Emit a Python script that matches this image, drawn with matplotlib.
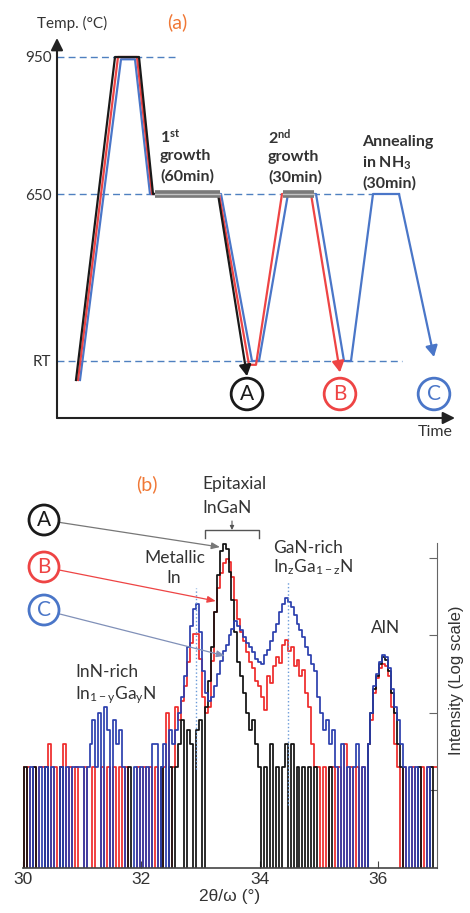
import numpy as np
import matplotlib
matplotlib.use("Agg")
import matplotlib.pyplot as plt
from matplotlib.ticker import NullLocator

plt.rcParams['font.family'] = ['Lato', 'DejaVu Sans']
plt.rcParams['mathtext.fontset'] = 'custom'
plt.rcParams['mathtext.rm'] = 'Lato'
plt.rcParams['mathtext.it'] = 'Lato:italic'
plt.rcParams['mathtext.bf'] = 'Lato:bold'

# ---- (a) growth sequences: time (arb. units) vs temperature (C)
t_A = [19, 58, 82, 96, 161, 190]
T_A = [0, 950, 950, 650, 650, 5]
t_B = [21, 61, 80, 95, 162, 192, 199, 225, 254, 283]
T_B = [0, 950, 950, 650, 650, 20, 20, 650, 650, 10]
t_C = [23, 64, 78, 93, 164, 195, 202, 231, 259, 287, 294, 316, 342, 377]
T_C = [0, 945, 945, 650, 650, 25, 25, 650, 650, 25, 25, 650, 650, 40]
growth1 = [98, 163]
growth2 = [226, 257]
# schematic temperature axis (not to scale)
T_ref = [0, 25, 650, 950]
H_ref = [38, 57, 224, 361]

# ---- (b) XRD 2theta/omega scans, counts per second, 0.05 deg step
two_theta = np.linspace(30, 37, 141)
cps_A = [0, 2, 0, 0, 2, 0, 0, 0, 2, 0, 0, 0, 0, 2, 0, 0, 0, 0, 0, 0,
         0, 0, 0, 0, 0, 0, 0, 0, 0, 0, 0, 0, 0, 0, 0, 0, 2, 0, 0, 0,
         0, 0, 0, 0, 0, 0, 0, 2, 0, 0, 2, 0, 2, 4, 8, 0, 6, 4, 0, 6,
         8, 0, 12, 26, 70, 200, 600, 1200, 1500, 1300, 650, 280, 110, 45, 30, 18, 10, 6, 8, 4,
         2, 0, 2, 0, 4, 0, 2, 0, 2, 4, 0, 4, 0, 2, 0, 2, 0, 2, 0, 2,
         0, 0, 0, 0, 2, 0, 0, 0, 0, 0, 0, 0, 0, 0, 0, 0, 0, 4, 10, 20,
         30, 42, 52, 48, 35, 18, 10, 4, 2, 0, 0, 0, 0, 0, 2, 0, 0, 0, 2, 0,
         0]
cps_B = [2, 0, 2, 0, 2, 0, 2, 2, 0, 4, 0, 2, 0, 2, 4, 0, 2, 0, 2, 0,
         0, 2, 0, 0, 2, 0, 0, 2, 0, 2, 0, 2, 0, 2, 0, 2, 0, 0, 0, 2,
         0, 2, 0, 2, 0, 2, 0, 0, 2, 10, 0, 2, 12, 8, 14, 22, 45, 80, 105, 105,
         50, 16, 10, 12, 47, 200, 400, 630, 850, 950, 870, 560, 280, 160, 110, 85, 60, 45, 38, 26,
         22, 16, 11, 30, 24, 40, 52, 44, 75, 86, 62, 70, 40, 48, 30, 36, 18, 12, 4, 2,
         2, 0, 2, 0, 2, 2, 0, 2, 0, 4, 0, 2, 0, 2, 0, 2, 0, 4, 8, 18,
         28, 38, 42, 40, 30, 12, 4, 2, 0, 2, 0, 0, 2, 0, 0, 2, 0, 2, 2, 2,
         2]
cps_C = [0, 0, 0, 2, 0, 0, 2, 0, 2, 0, 2, 0, 0, 2, 0, 2, 0, 2, 2, 2,
         2, 0, 2, 4, 8, 2, 10, 0, 12, 6, 0, 8, 4, 6, 2, 0, 0, 0, 2, 0,
         2, 0, 2, 0, 4, 4, 0, 2, 4, 0, 6, 4, 6, 10, 16, 30, 70, 130, 220, 250,
         110, 35, 18, 14, 16, 22, 32, 47, 62, 75, 100, 120, 150, 130, 115, 95, 80, 70, 60, 50,
         45, 42, 55, 65, 85, 110, 140, 200, 250, 300, 270, 230, 180, 140, 115, 95, 70, 55, 42, 35,
         16, 10, 6, 8, 4, 6, 2, 0, 4, 0, 2, 0, 2, 4, 0, 2, 0, 4, 10, 22,
         32, 45, 55, 52, 38, 20, 12, 8, 4, 2, 0, 2, 0, 2, 0, 0, 0, 2, 0, 0,
         0]

col_a = {'A': '#1a1a1a', 'B': '#ee4444', 'C': '#4a76c8'}
col_b = {'A': '#111111', 'B': '#ee2a2a', 'C': '#2b3fae'}
txt = '#333333'
orange = '#f07836'


def h(T):
    return np.interp(T, T_ref, H_ref)


fig = plt.figure(figsize=(4.7, 9.13), dpi=100)

# ================= (a) =================
ax_a = fig.add_axes([57 / 470, 1 - 418 / 913, 398 / 470, 380 / 913])
ax_a.set_xlim(0, 398)
ax_a.set_ylim(0, 380)
for s in ax_a.spines.values():
    s.set_visible(False)

dash = dict(color='#4f80c0', lw=1.0, ls=(0, (5, 3)), zorder=1)
ax_a.hlines(h(950), 0, 118, **dash)
ax_a.hlines(h(650), 0, 315, **dash)
ax_a.hlines(h(25), 0, 345, **dash)

for key, t, T in [('C', t_C, T_C), ('B', t_B, T_B), ('A', t_A, T_A)]:
    c = col_a[key]
    ax_a.plot(t[:-1], h(T[:-1]), color=c, lw=1.6, zorder=3)
    ax_a.annotate('', xy=(t[-1], h(T[-1])), xytext=(t[-2], h(T[-2])),
                  arrowprops=dict(arrowstyle='-|>,head_length=0.55,head_width=0.3',
                                  color=c, lw=1.6, shrinkA=0, shrinkB=0,
                                  mutation_scale=12), zorder=3)
    ax_a.text(t[-1], 24, key, ha='center', va='center', fontsize=15, color=c,
              bbox=dict(boxstyle='circle,pad=0.28', fc='white', ec=c, lw=2))

for g in [growth1, growth2]:
    ax_a.plot(g, [h(650)] * 2, color='#7a7a7a', lw=5.5, solid_capstyle='butt', zorder=5)
    ax_a.plot(g, [h(650)] * 2, color='#c4c4c4', lw=1.0, zorder=6)

ax_a.set_xticks([])
ax_a.set_yticks(h([25, 650, 950]))
ax_a.set_yticklabels(['RT', '650', '950'])
ax_a.tick_params(axis='y', length=0, pad=4, labelsize=11, labelcolor=txt)

arr = dict(arrowstyle='-|>,head_length=0.6,head_width=0.3', color='#222222', lw=1.5,
           shrinkA=0, shrinkB=0, mutation_scale=12)
ax_a.annotate('', xy=(0, 1), xytext=(0, 0), xycoords='axes fraction', arrowprops=arr)
ax_a.annotate('', xy=(1, 0), xytext=(0, 0), xycoords='axes fraction', arrowprops=arr)

# ================= (b) =================
ax_b = fig.add_axes([23 / 470, 45 / 913, 414 / 470, 325 / 913])
ax_b.set_yscale('log')
for key, y in [('B', cps_B), ('A', cps_A), ('C', cps_C)]:
    y = np.array(y, dtype=float)
    ax_b.plot(two_theta, np.where(y > 0, y, 1e-3), drawstyle='steps-mid',
              color=col_b[key], lw=1.25)
ax_b.vlines(32.92, 1.9, 400, color='#6a9ad8', ls=':', lw=1.0, zorder=5)
ax_b.vlines(34.48, 0.65, 500, color='#6a9ad8', ls=':', lw=1.0, zorder=5)
ax_b.set_xlim(30, 37)
ax_b.set_ylim(0.1, 1540)
for s in ['top', 'left']:
    ax_b.spines[s].set_visible(False)
ax_b.spines['bottom'].set_color('#444444')
ax_b.spines['bottom'].set_linewidth(1.2)
ax_b.spines['right'].set_color('#666666')
ax_b.set_xticks([30, 32, 34, 36])
ax_b.tick_params(axis='x', direction='in', length=5, pad=3, labelsize=12.5,
                 labelcolor=txt, labelfontfamily='Liberation Sans', color='#444444')
ax_b.set_yticks([1, 10, 100, 1000])
ax_b.yaxis.set_minor_locator(NullLocator())
ax_b.yaxis.set_ticks_position('right')
ax_b.tick_params(axis='y', direction='in', length=6, labelright=False, color='#666666')
ax_b.set_xlabel('2θ/ω (°)', fontsize=12.5, family='Liberation Sans', color=txt, labelpad=1)

# ================= overlay (labels) =================
ov = fig.add_axes([0, 0, 1, 1], zorder=10)
ov.set_xlim(0, 470)
ov.set_ylim(913, 0)
ov.axis('off')

ov.text(72, 23, 'Temp. (°C)', ha='center', va='center', fontsize=11, color=txt)
ov.text(177, 22, '(a)', ha='center', va='center', fontsize=14, color=orange)
ov.text(453, 432, 'Time', ha='right', va='center', fontsize=11.5, color=txt)

steps = [
    (160, [137, 156, 176], ['1$^{\\mathbf{st}}$', 'growth', '(60min)']),
    (268, [137, 157, 177], ['2$^{\\mathbf{nd}}$', 'growth', '(30min)']),
    (362, [142, 163, 183], ['Annealing', 'in NH$_{\\mathbf{3}}$', '(30min)']),
]
for x0, ys, lines in steps:
    for y0, s in zip(ys, lines):
        ov.text(x0, y0, s, ha='left', va='center', fontsize=11.5,
                fontweight='bold', color=txt)

ov.text(147, 484, '(b)', ha='center', va='center', fontsize=14, color=orange)
lab = dict(fontsize=12.5, color=txt, va='center')
ov.text(202, 484, 'Epitaxial', ha='left', **lab)
ov.text(202, 508, 'InGaN', ha='left', **lab)
ov.plot([205, 205, 259, 259], [538, 530, 530, 538], color='#555555', lw=1)
ov.annotate('', xy=(232, 530), xytext=(232, 521),
            arrowprops=dict(arrowstyle='-|>', mutation_scale=6, lw=0.8,
                            color='#555555', shrinkA=0, shrinkB=0))
ov.text(175, 558, 'Metallic', ha='center', **lab)
ov.text(174, 578, 'In', ha='center', **lab)
ov.text(273, 548, 'GaN-rich', ha='left', **lab)
ov.text(273, 567, 'In$_{\\mathrm{z}}$Ga$_{\\mathrm{1-z}}$N', ha='left', **lab)
ov.text(386, 628, 'AlN', ha='center', **lab)
ov.text(75, 672, 'InN-rich', ha='left', **lab)
ov.text(75, 695, 'In$_{\\mathrm{1-y}}$Ga$_{\\mathrm{y}}$N', ha='left', **lab)
ov.text(457, 680, 'Intensity (Log scale)', ha='center', va='center', rotation=90,
        fontsize=12, family='Liberation Sans', color=txt)

# sample markers pointing at their curves
pointers = [('A', 520, (33.33, 1365), '#777777'),
            ('B', 567, (33.26, 275), '#ee4444'),
            ('C', 610, (33.415, 54), '#8090b8')]
for key, y0, tip, lc in pointers:
    ov.annotate(key, xy=tip, xycoords=ax_b.transData, xytext=(44, y0),
                textcoords='data', ha='center', va='center', fontsize=15,
                color=col_a[key],
                bbox=dict(boxstyle='circle,pad=0.24', fc='white', ec=col_a[key], lw=2),
                arrowprops=dict(arrowstyle='-|>,head_length=0.5,head_width=0.2',
                                color=lc, lw=0.9, shrinkA=0, shrinkB=0,
                                mutation_scale=10))

fig.savefig('out.png', dpi=100)
